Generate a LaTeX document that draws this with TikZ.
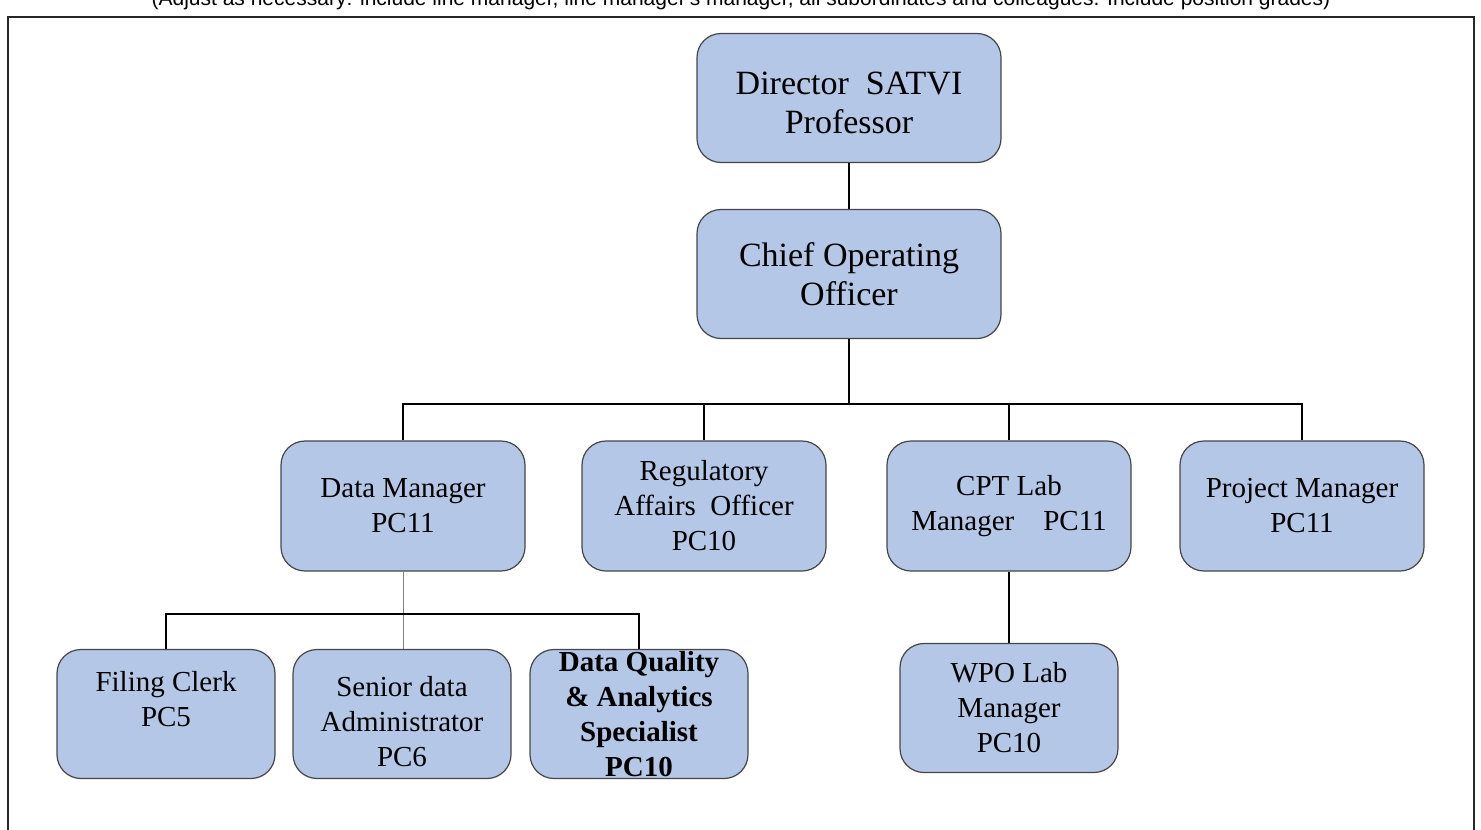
\documentclass[tikz,border=0pt]{standalone}
\usepackage{fontspec}
\setmainfont{Liberation Serif}
\newfontfamily\notefont{Liberation Sans}
\usepackage{tikz}
\usetikzlibrary{positioning}
\definecolor{postfill}{RGB}{180,199,231}
\definecolor{postline}{RGB}{70,70,70}
\tikzset{
    post/.style={draw=postline, line width=1.2pt, fill=postfill, rounded corners=24pt, align=center, inner sep=0pt},
    toppost/.style={post, minimum width=304pt, minimum height=129pt, font=\fontsize{34}{39}\selectfont},
    midpost/.style={post, minimum width=244pt, minimum height=130pt, font=\fontsize{29}{35}\selectfont},
    lowpost/.style={post, minimum width=218pt, minimum height=129pt, font=\fontsize{29}{35}\selectfont},
    wire/.style={draw=black, line width=1.8pt},
    thinwire/.style={draw=gray, line width=0.9pt},
}

\begin{document}
\begin{tikzpicture}[x=1pt,y=-1pt]
            \useasboundingbox (0,0) rectangle (1481,830);

            % Frame and note on top
            \draw[draw=black!85, line width=1.6pt] (8,840) -- (8,17) -- (1474,17) -- (1474,840);
            \node[font=\notefont\fontsize{21}{24}\selectfont, anchor=base] (note) at (741,5)
                {(Adjust as necessary: include line manager, line manager's manager, all subordinates and colleagues. Include position grades)};

            % Define the posts as nodes
            \node[toppost, text height=72pt] (director) at (849,98)     {Director\ \ SATVI\\Professor};
            \node[toppost] (coo) [below of=director, node distance=176pt] {Chief Operating\\Officer};

            \node[midpost] (dm)  [below of=coo, node distance=232pt, xshift=-446pt] {Data Manager\\PC11};
            \node[midpost] (reg) [right of=dm, node distance=301pt]    {Regulatory\\Affairs\ \ Officer\\PC10};
            \node[midpost] (cpt) [right of=reg, node distance=305pt]   {CPT Lab\\Manager\quad PC11};
            \node[midpost] (pm)  [right of=cpt, node distance=293pt]   {Project Manager\\PC11};

            \node[lowpost, text height=106pt] (filing) [below of=dm, node distance=208pt, xshift=-237pt] {Filing Clerk\\PC5\\\strut};
            \node[lowpost, text height=106pt] (senior) [right of=filing, node distance=236pt] {Senior data\\Administrator\\PC6};
            \node[lowpost] (dq)     [right of=senior, node distance=237pt]
                {\bfseries Data Quality\\\bfseries \& Analytics\\\bfseries Specialist\\\bfseries PC10};
            \node[lowpost] (wpo)    [below of=cpt, node distance=202pt] {WPO Lab\\Manager\\PC10};

            % Connect the posts
            \coordinate (bus) at ([yshift=-65pt]coo.south);
            \draw[wire] (director) -- (coo);
            \draw[wire] (coo.south) -- (bus);
            \draw[wire] (bus) -| (dm.north);
            \draw[wire] (bus) -| (reg.north);
            \draw[wire] (bus) -| (cpt.north);
            \draw[wire] (bus) -| (pm.north);

            \coordinate (subbus) at ([yshift=-42pt]dm.south);
            \draw[thinwire] (dm.south) -- (senior.north -| dm.south);
            \draw[wire] (subbus) -| (filing.north);
            \draw[wire] (subbus) -| (dq.north);

            \draw[wire] (cpt) -- (wpo);

        \end{tikzpicture}
\end{document}
